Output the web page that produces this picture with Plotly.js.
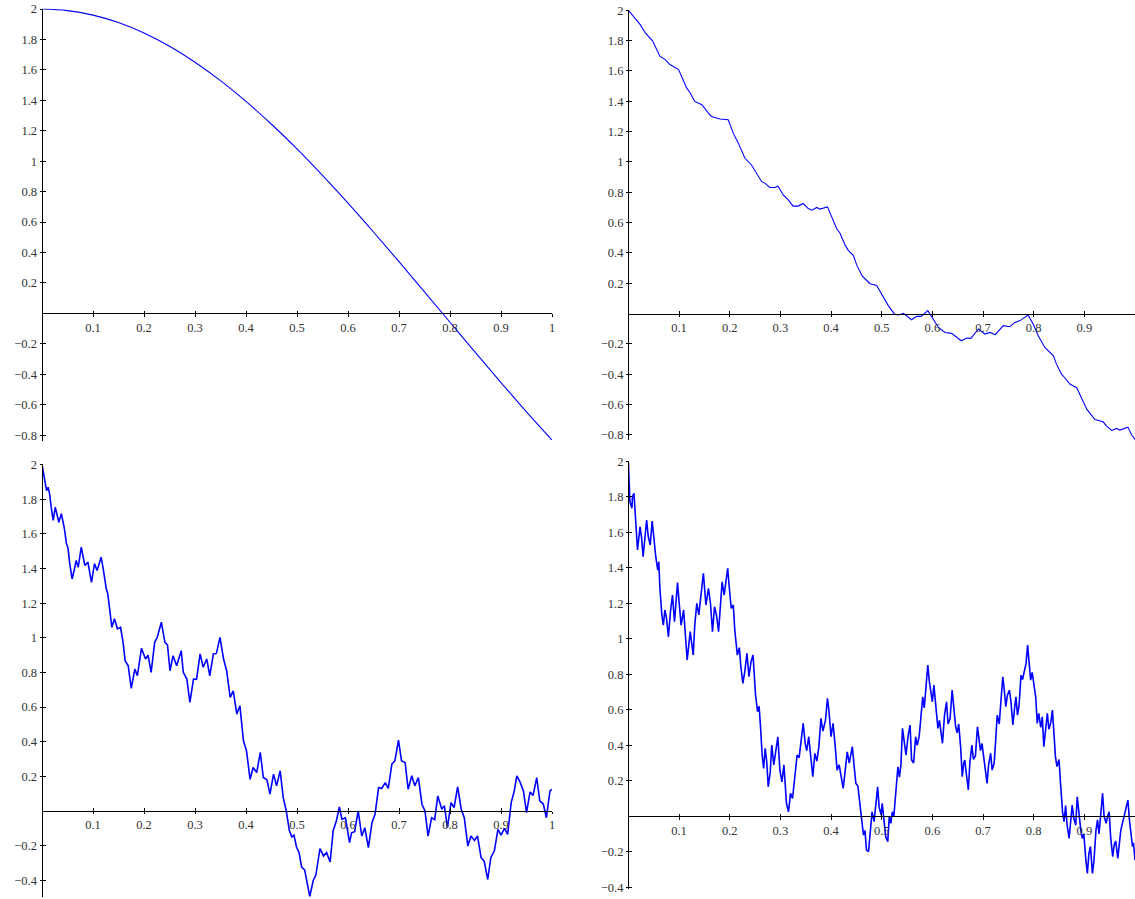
<!DOCTYPE html>
<html>
<head>
<meta charset="utf-8">
<script src="https://cdn.plot.ly/plotly-3.0.1.min.js"></script>
<style>html,body{margin:0;padding:0;background:#fff;}#chart{width:1135px;height:899px;}</style>
</head>
<body>
<div id="chart"></div>
<script>
// ---------- data ----------
// Panel A (top-left): smooth curve
const aX = [0,0.05,0.1,0.15,0.2,0.25,0.3,0.35,0.4,0.45,0.5,0.55,0.6,0.65,0.7,0.75,0.8,0.85,0.9,0.95,1.0];
const aY = [2.000,1.990,1.960,1.911,1.842,1.755,1.651,1.530,1.393,1.243,1.081,0.907,0.725,0.535,0.340,0.141,-0.058,-0.258,-0.454,-0.647,-0.832];

// Panel B (top-right)
const bX = [0,0.023,0.033,0.046,0.048,0.062,0.072,0.082,0.095,0.099,0.115,0.122,0.131,0.145,0.158,0.164,0.181,0.197,0.207,0.217,0.230,0.243,0.263,0.270,0.279,0.290,0.295,0.306,0.316,0.325,0.335,0.345,0.355,0.362,0.372,0.378,0.393,0.401,0.411,0.418,0.428,0.434,0.444,0.451,0.461,0.467,0.477,0.490,0.503,0.513,0.525,0.533,0.543,0.559,0.569,0.578,0.591,0.599,0.612,0.625,0.638,0.657,0.668,0.676,0.686,0.691,0.704,0.714,0.724,0.740,0.753,0.763,0.773,0.789,0.799,0.809,0.822,0.839,0.845,0.855,0.862,0.872,0.885,0.898,0.905,0.921,0.937,0.944,0.954,0.964,0.970,0.986,0.993,1.0];
const bY = [2.0,1.907,1.852,1.808,1.797,1.697,1.676,1.642,1.620,1.609,1.488,1.455,1.399,1.377,1.322,1.300,1.283,1.278,1.190,1.124,1.024,0.980,0.870,0.859,0.832,0.832,0.841,0.781,0.748,0.709,0.709,0.726,0.693,0.682,0.700,0.689,0.704,0.638,0.561,0.528,0.450,0.417,0.384,0.318,0.252,0.230,0.197,0.185,0.108,0.053,-0.002,-0.009,0.002,-0.040,-0.018,-0.018,0.020,-0.024,-0.091,-0.124,-0.130,-0.179,-0.161,-0.163,-0.124,-0.101,-0.135,-0.124,-0.139,-0.079,-0.086,-0.058,-0.046,-0.009,-0.068,-0.146,-0.223,-0.278,-0.333,-0.399,-0.426,-0.466,-0.488,-0.576,-0.631,-0.698,-0.713,-0.742,-0.770,-0.757,-0.768,-0.748,-0.797,-0.830];

// Panel C (bottom-left)
const cX = [0,0.005,0.009,0.012,0.015,0.018,0.022,0.026,0.030,0.033,0.038,0.041,0.044,0.048,0.051,0.054,0.059,0.063,0.067,0.071,0.077,0.084,0.090,0.097,0.103,0.108,0.116,0.120,0.126,0.129,0.133,0.137,0.142,0.148,0.154,0.159,0.163,0.169,0.175,0.182,0.187,0.195,0.203,0.208,0.214,0.221,0.226,0.234,0.241,0.246,0.251,0.257,0.264,0.273,0.277,0.284,0.290,0.297,0.303,0.310,0.316,0.323,0.329,0.336,0.342,0.349,0.356,0.362,0.369,0.375,0.382,0.388,0.395,0.401,0.408,0.414,0.421,0.428,0.434,0.441,0.447,0.454,0.460,0.467,0.473,0.479,0.485,0.490,0.494,0.499,0.504,0.509,0.515,0.522,0.525,0.532,0.537,0.545,0.552,0.558,0.565,0.571,0.577,0.583,0.588,0.595,0.603,0.607,0.613,0.620,0.627,0.633,0.640,0.647,0.653,0.660,0.666,0.673,0.679,0.686,0.692,0.699,0.705,0.712,0.718,0.725,0.731,0.738,0.745,0.751,0.757,0.764,0.770,0.776,0.784,0.789,0.795,0.802,0.808,0.815,0.822,0.828,0.835,0.841,0.848,0.854,0.861,0.867,0.874,0.880,0.887,0.894,0.900,0.907,0.913,0.920,0.926,0.931,0.937,0.944,0.950,0.957,0.963,0.970,0.976,0.983,0.989,0.996,1.0];
const cY = [2.0,1.92,1.85,1.87,1.83,1.755,1.678,1.755,1.697,1.668,1.717,1.67,1.63,1.543,1.52,1.437,1.34,1.389,1.447,1.408,1.524,1.418,1.437,1.321,1.428,1.389,1.466,1.40,1.283,1.254,1.167,1.061,1.110,1.052,1.061,0.974,0.868,0.839,0.708,0.820,0.781,0.939,0.878,0.90,0.801,0.974,1.003,1.090,0.974,0.96,0.810,0.897,0.839,0.926,0.801,0.762,0.627,0.762,0.76,0.907,0.830,0.878,0.781,0.907,0.91,1.003,0.878,0.810,0.656,0.694,0.560,0.608,0.405,0.347,0.183,0.251,0.222,0.338,0.193,0.18,0.097,0.213,0.145,0.232,0.077,0.0,-0.113,-0.15,-0.14,-0.208,-0.24,-0.324,-0.34,-0.458,-0.493,-0.40,-0.37,-0.217,-0.26,-0.24,-0.295,-0.113,-0.06,0.023,-0.048,-0.04,-0.183,-0.126,-0.12,0.0,-0.145,-0.097,-0.212,-0.068,-0.019,0.135,0.13,0.164,0.13,0.270,0.29,0.409,0.289,0.28,0.125,0.203,0.145,0.193,0.039,0.0,-0.145,-0.039,-0.05,0.087,0.010,0.03,-0.097,0.048,0.02,0.139,0.010,-0.039,-0.203,-0.145,-0.17,-0.145,-0.270,-0.29,-0.396,-0.270,-0.23,-0.106,-0.14,-0.10,-0.135,0.048,0.116,0.203,0.17,0.116,-0.010,0.11,0.09,0.193,0.058,0.04,-0.039,0.116,0.125];

// Panel D (bottom-right)
const dX = [0,0.001,0.003,0.007,0.008,0.011,0.013,0.016,0.018,0.023,0.026,0.029,0.033,0.036,0.039,0.043,0.047,0.050,0.054,0.058,0.060,0.062,0.066,0.069,0.072,0.075,0.079,0.083,0.087,0.091,0.095,0.097,0.100,0.104,0.109,0.112,0.116,0.122,0.125,0.128,0.131,0.135,0.139,0.145,0.148,0.153,0.158,0.162,0.166,0.170,0.174,0.178,0.182,0.185,0.189,0.194,0.196,0.199,0.203,0.207,0.210,0.215,0.219,0.222,0.226,0.230,0.234,0.238,0.242,0.246,0.248,0.251,0.255,0.258,0.261,0.264,0.267,0.270,0.273,0.276,0.280,0.283,0.287,0.291,0.295,0.299,0.303,0.307,0.312,0.316,0.320,0.324,0.329,0.333,0.337,0.342,0.345,0.349,0.352,0.356,0.361,0.364,0.368,0.372,0.376,0.380,0.384,0.389,0.393,0.396,0.400,0.404,0.408,0.412,0.416,0.420,0.424,0.428,0.432,0.436,0.442,0.445,0.449,0.453,0.457,0.461,0.464,0.467,0.470,0.474,0.478,0.481,0.485,0.489,0.492,0.495,0.499,0.501,0.505,0.508,0.512,0.515,0.518,0.521,0.524,0.528,0.532,0.535,0.538,0.541,0.545,0.548,0.552,0.556,0.559,0.563,0.567,0.570,0.574,0.578,0.581,0.584,0.587,0.591,0.594,0.597,0.600,0.603,0.607,0.611,0.614,0.617,0.620,0.624,0.628,0.631,0.635,0.639,0.642,0.646,0.649,0.652,0.656,0.659,0.662,0.664,0.667,0.671,0.674,0.678,0.681,0.685,0.689,0.692,0.695,0.698,0.702,0.705,0.708,0.711,0.715,0.718,0.722,0.725,0.728,0.732,0.735,0.739,0.742,0.745,0.748,0.752,0.755,0.759,0.762,0.765,0.768,0.771,0.775,0.778,0.781,0.785,0.788,0.791,0.794,0.797,0.801,0.804,0.807,0.810,0.814,0.817,0.820,0.824,0.827,0.830,0.834,0.837,0.840,0.843,0.846,0.850,0.853,0.857,0.860,0.863,0.866,0.870,0.873,0.876,0.879,0.883,0.886,0.889,0.893,0.896,0.899,0.903,0.906,0.909,0.912,0.916,0.919,0.923,0.926,0.929,0.933,0.936,0.939,0.943,0.946,0.949,0.952,0.956,0.959,0.962,0.966,0.969,0.972,0.976,0.981,0.986,0.989,0.992,0.995,0.997,1.0];
const dY = [1.99,1.885,1.772,1.735,1.80,1.819,1.716,1.566,1.50,1.631,1.57,1.462,1.575,1.669,1.58,1.528,1.663,1.57,1.462,1.387,1.434,1.293,1.134,1.077,1.162,1.12,1.011,1.152,1.246,1.096,1.25,1.316,1.209,1.077,1.162,1.059,0.880,1.040,0.98,0.908,1.077,1.199,1.134,1.284,1.369,1.190,1.284,1.20,1.040,1.180,1.13,1.040,1.209,1.321,1.246,1.369,1.397,1.293,1.171,1.19,1.049,0.908,0.95,0.842,0.749,0.82,0.918,0.786,0.87,0.908,0.81,0.683,0.589,0.62,0.495,0.345,0.270,0.383,0.31,0.166,0.25,0.401,0.289,0.37,0.448,0.260,0.194,0.289,0.073,0.025,0.129,0.10,0.223,0.345,0.33,0.467,0.523,0.411,0.37,0.448,0.298,0.223,0.354,0.31,0.392,0.552,0.48,0.54,0.664,0.59,0.448,0.523,0.401,0.260,0.29,0.223,0.157,0.260,0.363,0.30,0.392,0.30,0.185,0.17,0.063,-0.021,-0.106,-0.08,-0.190,-0.200,-0.059,0.025,-0.03,0.110,0.166,0.05,0.007,0.073,-0.06,-0.115,-0.143,0.0,-0.04,0.025,0.0,0.148,0.279,0.22,0.29,0.495,0.40,0.345,0.45,0.514,0.317,0.30,0.448,0.40,0.45,0.570,0.673,0.61,0.739,0.852,0.76,0.71,0.645,0.739,0.59,0.495,0.54,0.48,0.411,0.57,0.645,0.52,0.55,0.711,0.60,0.504,0.47,0.52,0.383,0.223,0.30,0.317,0.24,0.148,0.30,0.401,0.32,0.34,0.504,0.42,0.37,0.41,0.307,0.24,0.185,0.29,0.354,0.26,0.30,0.429,0.570,0.52,0.636,0.786,0.71,0.617,0.68,0.71,0.65,0.514,0.60,0.673,0.57,0.62,0.795,0.77,0.81,0.861,0.964,0.86,0.767,0.81,0.74,0.673,0.523,0.58,0.50,0.56,0.392,0.52,0.580,0.49,0.53,0.598,0.47,0.335,0.28,0.32,0.185,0.025,-0.03,0.06,-0.05,-0.125,-0.03,0.063,-0.01,-0.05,0.110,0.02,-0.078,-0.125,-0.10,-0.247,-0.322,-0.21,-0.17,-0.322,-0.25,-0.078,-0.02,-0.10,0.035,0.129,0.0,-0.04,0.0,0.025,-0.12,-0.228,-0.16,-0.14,-0.237,-0.16,-0.078,-0.03,0.03,0.091,-0.02,-0.115,-0.17,-0.15,-0.247];

// tick values / labels
const xTickVals = [0.1,0.2,0.3,0.4,0.5,0.6,0.7,0.8,0.9,1];
const xTickText = ['0.1','0.2','0.3','0.4','0.5','0.6','0.7','0.8','0.9','1'];
const yTicksTop = [-0.8,-0.6,-0.4,-0.2,0.2,0.4,0.6,0.8,1,1.2,1.4,1.6,1.8,2];
const yTicksBottom = [-0.4,-0.2,0.2,0.4,0.6,0.8,1,1.2,1.4,1.6,1.8,2];

// ---------- layout ----------
const W = 1135, H = 899;
const fmt = v => (v < 0 ? '\u2212' : '') + String(Math.abs(v));
const font = {family: '"Liberation Serif", "Times New Roman", serif', size: 12.5, color: '#333'};

// pixel geometry of each panel
const panels = [
  {x: aX, y: aY, l: 42,    r: 552,  yMax: 2.003, yMin: -0.835, top: 8.6,   bot: 440.5, ticks: yTicksTop, w: 1.1},
  {x: bX, y: bY, l: 628.4, r: 1135, yMax: 2.003, yMin: -0.833, top: 9.8,   bot: 440.0, ticks: yTicksTop, w: 1.1},
  {x: cX, y: cY, l: 42,    r: 552,  yMax: 2.003, yMin: -0.497, top: 464.2, bot: 897.0, ticks: yTicksBottom, w: 1.6},
  {x: dX, y: dY, l: 628.4, r: 1135, yMax: 2.003, yMin: -0.412, top: 460.7, bot: 889.4, ticks: yTicksBottom, w: 1.6}
];

const data = [];
const layout = {
  width: W, height: H,
  margin: {l: 0, r: 0, t: 0, b: 0, pad: 0},
  paper_bgcolor: '#fff', plot_bgcolor: 'rgba(0,0,0,0)',
  showlegend: false
};

panels.forEach((p, i) => {
  const n = i === 0 ? '' : String(i + 1);
  const m = String(i + 5); // overlay axes carrying the inner half of the crossing ticks
  data.push({
    x: p.x, y: p.y, type: 'scatter', mode: 'lines',
    xaxis: 'x' + n, yaxis: 'y' + n,
    line: {color: '#0000ff', width: p.w, shape: i === 0 ? 'spline' : 'linear'},
    hoverinfo: 'skip'
  });
  data.push({x: [], y: [], type: 'scatter', mode: 'lines', xaxis: 'x' + m, yaxis: 'y' + m, hoverinfo: 'skip'});
  const yTop = 1 - p.top / H, yBot = 1 - p.bot / H;
  const zeroPx = p.top + (p.yMax - 0) / (p.yMax - p.yMin) * (p.bot - p.top);
  const xBase = {
    domain: [p.l / W, Math.min(1, p.r / W)], range: [0, 1],
    anchor: 'free', position: 1 - zeroPx / H,
    showgrid: false, zeroline: false, fixedrange: true,
    ticklen: 2.5, tickwidth: 1, tickcolor: '#000',
    tickvals: xTickVals, ticktext: xTickText, tickfont: font
  };
  const yBase = {
    domain: [yBot, yTop], range: [p.yMin, p.yMax],
    anchor: 'free', position: p.l / W,
    showgrid: false, zeroline: false, fixedrange: true,
    ticklen: 2.5, tickwidth: 1, tickcolor: '#000',
    tickvals: p.ticks, ticktext: p.ticks.map(fmt), tickfont: font
  };
  layout['xaxis' + n] = Object.assign({}, xBase, {showline: true, linecolor: '#000', linewidth: 1, ticks: 'outside'});
  layout['yaxis' + n] = Object.assign({}, yBase, {showline: true, linecolor: '#000', linewidth: 1, ticks: 'outside'});
  layout['xaxis' + m] = Object.assign({}, xBase, {overlaying: 'x' + n, showline: false, ticks: 'inside', showticklabels: false});
  layout['yaxis' + m] = Object.assign({}, yBase, {overlaying: 'y' + n, showline: false, ticks: 'inside', showticklabels: false});
});

Plotly.newPlot('chart', data, layout, {displayModeBar: false, staticPlot: true});
</script>
</body>
</html>
